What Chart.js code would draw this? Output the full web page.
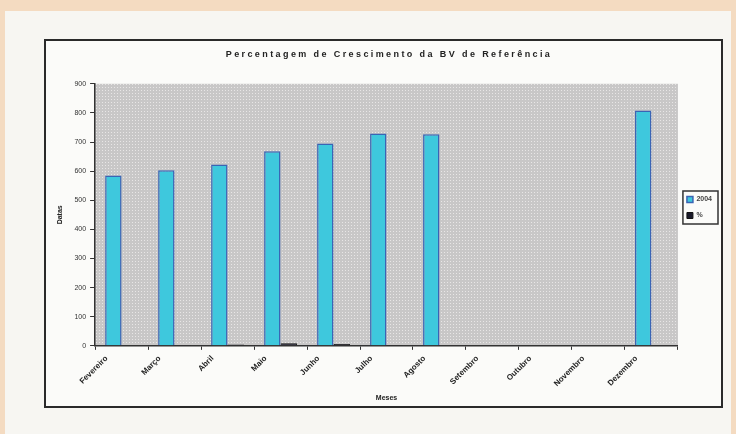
<!DOCTYPE html>
<html>
<head>
<meta charset="utf-8">
<script src="https://cdn.jsdelivr.net/npm/chart.js@4/dist/chart.umd.min.js"></script>
<style>
  html, body { margin: 0; padding: 0; background: #f4dbc1; }
  #wrap { width: 736px; height: 434px; position: relative; }
</style>
</head>
<body>
<div id="wrap"><canvas id="c" width="736" height="434"></canvas></div>
<script>
const months = ['Fevereiro','Março','Abril','Maio','Junho','Julho','Agosto','Setembro','Outubro','Novembro','Dezembro'];
const values2004 = [585, 603, 623, 668, 695, 729, 727, null, null, null, 808];
const percentValues = [0, 1, 5, 9, 6, 3, 0, null, null, null, 0];
const yTicks = [0, 100, 200, 300, 400, 500, 600, 700, 800, 900];
const chartTitle = 'Percentagem de Crescimento da BV de Referência';
const xTitle = 'Meses';
const yTitle = 'Datas';

function makePattern(ctx) {
  const p = document.createElement('canvas');
  p.width = 3; p.height = 3;
  const g = p.getContext('2d');
  g.fillStyle = '#c8c7c7';
  g.fillRect(0, 0, 3, 3);
  g.fillStyle = '#e8e6e6';
  g.fillRect(0, 0, 1, 1);
  return ctx.createPattern(p, 'repeat');
}

const pagePlugin = {
  id: 'page',
  afterInit(chart) {
    const t = chart.titleBlock;
    if (t) {
      const orig = t.draw.bind(t);
      t.draw = function (area) {
        chart.ctx.save();
        chart.ctx.letterSpacing = '2.4px';
        orig(area);
        chart.ctx.restore();
      };
    }
  },
  afterLayout(chart) {
    const l = chart.legend;
    if (l) {
      l.top -= 17; l.bottom -= 17;
    }
  },
  beforeDraw(chart) {
    const ctx = chart.ctx;
    ctx.save();
    ctx.fillStyle = '#f4dbc1';
    ctx.fillRect(0, 0, chart.width, chart.height);
    ctx.fillStyle = '#f7f6f2';
    ctx.fillRect(5, 11, 726, 423);
    ctx.fillStyle = '#fbfbf9';
    ctx.fillRect(45, 40, 677, 367);
    ctx.lineWidth = 2;
    ctx.strokeStyle = '#2a2a2a';
    ctx.strokeRect(45, 40, 677, 367);
    const a = chart.chartArea;
    ctx.fillStyle = makePattern(ctx);
    ctx.fillRect(a.left, a.top, a.right - a.left, a.bottom - a.top);
    ctx.restore();
  },
  afterDraw(chart) {
    const l = chart.legend;
    if (!l) return;
    const ctx = chart.ctx;
    ctx.save();
    ctx.lineWidth = 1.5;
    ctx.strokeStyle = '#333';
    const items = l.legendHitBoxes;
    if (items && items.length) {
      const x0 = Math.min(...items.map(b => b.left)) - 4;
      const y0 = Math.min(...items.map(b => b.top)) - 5;
      const x1 = Math.max(...items.map(b => b.left + b.width)) + 6;
      const y1 = Math.max(...items.map(b => b.top + b.height)) + 5;
      ctx.strokeRect(x0, y0, x1 - x0, y1 - y0);
    }
    ctx.restore();
  }
};

new Chart(document.getElementById('c'), {
  type: 'bar',
  data: {
    labels: months,
    datasets: [
      { label: '2004', data: values2004, backgroundColor: '#3ec8dd', borderColor: '#3a64b4', borderWidth: 1.5,
        categoryPercentage: 0.62, barPercentage: 1.0 },
      { label: '%', data: percentValues, backgroundColor: '#1a1a2a', borderColor: '#111', borderWidth: 1,
        categoryPercentage: 0.62, barPercentage: 1.0 }
    ]
  },
  options: {
    responsive: false,
    animation: false,
    layout: { padding: { left: 56, top: 47, right: 14, bottom: 32 } },
    plugins: {
      title: { display: true, text: chartTitle, color: '#222',
        font: { family: 'Liberation Sans', size: 9, weight: 'bold' }, padding: { top: 2, bottom: 24 } },
      legend: { position: 'right', align: 'center',
        labels: { color: '#444', boxWidth: 6, boxHeight: 6, padding: 9,
          font: { family: 'Liberation Sans', size: 7, weight: 'bold' } } },
      tooltip: { enabled: false }
    },
    scales: {
      x: {
        grid: { display: true, drawOnChartArea: false, drawTicks: true, tickLength: 4, color: '#333', offset: true },
        border: { display: true, color: '#333', width: 1.5 },
        ticks: { color: '#222', minRotation: 45, maxRotation: 45, autoSkip: false, padding: 4, labelOffset: -15,
          font: { family: 'Liberation Sans', size: 8, weight: 'bold' } },
        title: { display: true, text: xTitle, color: '#222', padding: { top: 1, bottom: 0 },
          font: { family: 'Liberation Sans', size: 7, weight: 'bold' } }
      },
      y: {
        min: 0, max: 900,
        afterBuildTicks(axis) { axis.ticks = yTicks.map(v => ({ value: v })); },
        grid: { display: true, drawOnChartArea: false, drawTicks: true, tickLength: 5, color: '#333' },
        border: { display: true, color: '#333', width: 1.5 },
        ticks: { color: '#333', padding: 4, font: { family: 'Liberation Sans', size: 7 } },
        title: { display: true, text: yTitle, color: '#222', padding: { top: 0, bottom: 6 },
          font: { family: 'Liberation Sans', size: 7, weight: 'bold' } }
      }
    }
  },
  plugins: [pagePlugin]
});
</script>
</body>
</html>
